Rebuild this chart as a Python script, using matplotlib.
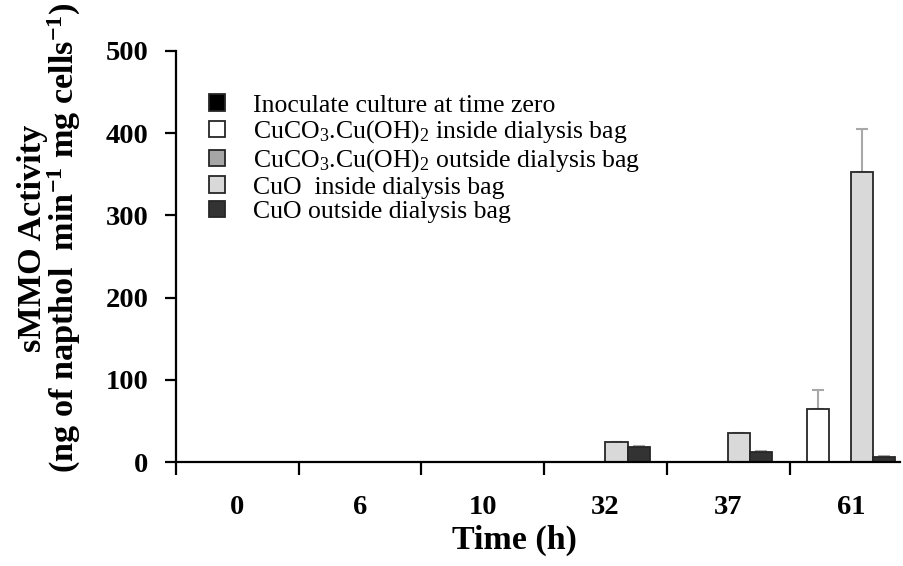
import matplotlib
matplotlib.use("Agg")
import matplotlib.pyplot as plt
import numpy as np

plt.rcParams['font.family'] = ['Liberation Serif', 'DejaVu Serif']
plt.rcParams['mathtext.fontset'] = 'custom'
plt.rcParams['mathtext.rm'] = 'Liberation Serif'
plt.rcParams['mathtext.it'] = 'Liberation Serif:italic'
plt.rcParams['mathtext.bf'] = 'Liberation Serif:bold'

# ---- data ----
categories = ['0', '6', '10', '32', '37', '61']
series_names = [
    'Inoculate culture at time zero',
    r'CuCO$_3$.Cu(OH)$_2$ inside dialysis bag',
    r'CuCO$_3$.Cu(OH)$_2$ outside dialysis bag',
    'CuO  inside dialysis bag',
    'CuO outside dialysis bag',
]
inoculate = [0, 0, 0, 0, 0, 0]
cuco3_inside = [0, 0, 0, 0, 0, 65]
cuco3_outside = [0, 0, 0, 0, 0, 0]
cuo_inside = [0, 0, 0, 24, 35, 353]
cuo_outside = [0, 0, 0, 18.5, 12.5, 6.5]

err_inoculate = [0, 0, 0, 0, 0, 0]
err_cuco3_inside = [0, 0, 0, 0, 0, 23]
err_cuco3_outside = [0, 0, 0, 0, 0, 0]
err_cuo_inside = [0, 0, 0, 0.6, 0.8, 52]
err_cuo_outside = [0, 0, 0, 0.4, 0.5, 0.6]

values = [inoculate, cuco3_inside, cuco3_outside, cuo_inside, cuo_outside]
errors = [err_inoculate, err_cuco3_inside, err_cuco3_outside, err_cuo_inside, err_cuo_outside]
colors = ['#000000', '#ffffff', '#a6a6a6', '#d9d9d9', '#333333']

fig = plt.figure(figsize=(9.04, 5.66), dpi=100)
ax = fig.add_axes([176 / 904, 1 - 462 / 566, (900 - 176) / 904, (462 - 51) / 566])

x = np.arange(len(categories)) + 0.5
width = 0.18
offsets = [-0.45, -0.27, -0.09, 0.09, 0.27]

handles = []
for vals, errs, col, off, name in zip(values, errors, colors, offsets, series_names):
    vals = np.array(vals, dtype=float)
    errs = np.array(errs, dtype=float)
    b = ax.bar(x + off, vals, width, color=col, edgecolor='#262626', linewidth=1.3,
               label=name, zorder=2)
    mask = errs > 0
    if mask.any():
        ax.errorbar((x + off)[mask], vals[mask],
                    yerr=[np.zeros(mask.sum()), errs[mask]],
                    fmt='none', ecolor='#a8a8a8', elinewidth=1.5, capsize=4, capthick=1.5,
                    zorder=1)
    handles.append(b)

ax.set_xlim(0, 5.9)
ax.set_ylim(0, 500)

for s in ['top', 'right']:
    ax.spines[s].set_visible(False)
for s in ['left', 'bottom']:
    ax.spines[s].set_linewidth(1.6)
    ax.spines[s].set_color('black')

ax.set_xticks(x)
ax.set_xticklabels(categories, fontsize=20.5, fontweight='bold')
ax.tick_params(axis='x', which='major', length=0, pad=24)
ax.set_xticks(np.arange(0, 6), minor=True)
ax.tick_params(axis='x', which='minor', length=9, width=1.6, direction='out')

ax.set_yticks(np.arange(0, 501, 100))
ax.tick_params(axis='y', which='major', length=8, width=1.6, direction='out', pad=12,
               labelsize=20.5)
for lab in ax.get_yticklabels():
    lab.set_fontweight('bold')

leg = ax.legend(handles=handles, labels=series_names, loc='upper left',
                bbox_to_anchor=(0.046, 0.895), frameon=False, fontsize=18.5,
                handlelength=0.62, handleheight=0.62, handletextpad=1.1,
                labelspacing=0.08, borderaxespad=0, borderpad=0)

fig.text(514 / 904, 1 - 540 / 566, 'Time (h)', fontsize=24.5, fontweight='bold',
         ha='center', va='center')
fig.text(50 / 904, 1 - 238 / 566,
         'sMMO Activity\n'
         r'(ng of napthol  min$^{\mathbf{-1}}$ mg cells$^{\mathbf{-1}}$)',
         fontsize=24.7, fontweight='bold', rotation=90, ha='center', va='center',
         multialignment='center', linespacing=0.95)

fig.savefig('out.png', dpi=100)
